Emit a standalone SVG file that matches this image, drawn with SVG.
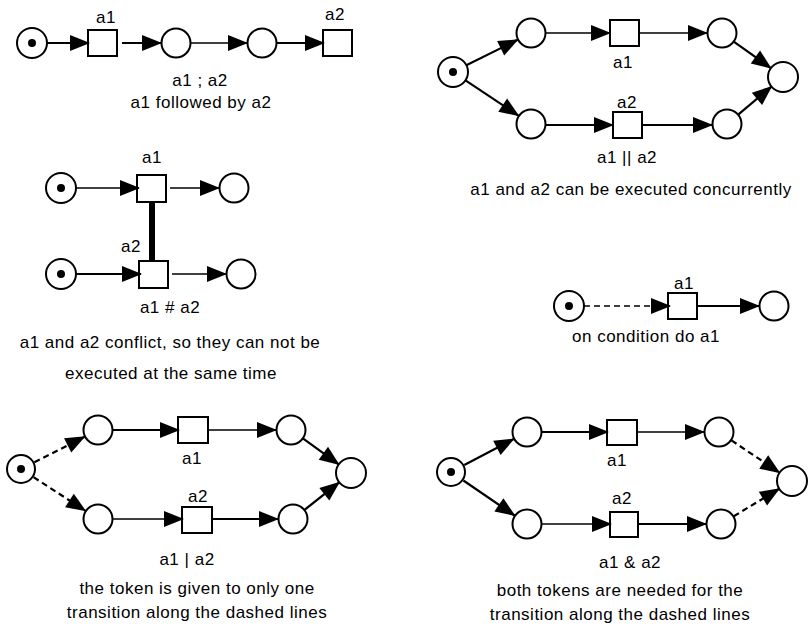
<svg xmlns="http://www.w3.org/2000/svg" width="811" height="632" viewBox="0 0 811 632">
  <style>
    .place { fill: #fff; stroke: #000; stroke-width: 2; }
    .trans { fill: #fff; stroke: #000; stroke-width: 2; }
    .token { fill: #000; }
    .arc { stroke: #000; stroke-width: 2.2; fill: none; marker-end: url(#head); }
    .thin { stroke-width: 1.6; }
    .dash { stroke-dasharray: 6 4; }
    .bar { stroke: #000; stroke-width: 6; }
    text { font-family: "Liberation Sans", Arial, sans-serif; font-size: 17px; letter-spacing: 0.5px; fill: #000; text-anchor: middle; }
  </style>
  <defs>
    <marker id="head" markerUnits="userSpaceOnUse" viewBox="0 0 20 16" markerWidth="20" markerHeight="16" refX="19" refY="8" orient="auto" overflow="visible">
      <path d="M0,0 L20,8 L0,16 z" fill="#000"/>
    </marker>
  </defs>

  <!-- Sequence: a1 ; a2 -->
  <g id="seq">
    <g id="seq-p0"><circle class="place" cx="32" cy="43" r="15"/><circle class="token" cx="32" cy="43" r="4"/></g>
    <g id="seq-a1"><rect class="trans" x="88" y="30" width="29" height="26"/><text x="106" y="23">a1</text></g>
    <g id="seq-p1"><circle class="place" cx="176" cy="43" r="14.5"/></g>
    <g id="seq-p2"><circle class="place" cx="262" cy="43" r="14.5"/></g>
    <g id="seq-a2"><rect class="trans" x="323" y="30" width="29" height="26"/><text x="335" y="20">a2</text></g>
    <g id="seq-arcs">
      <line class="arc" x1="47" y1="43" x2="89" y2="43"/>
      <line class="arc" x1="122" y1="43" x2="161" y2="43"/>
      <line class="arc thin" x1="191" y1="43" x2="247" y2="43"/>
      <line class="arc" x1="277" y1="43" x2="324" y2="43"/>
    </g>
    <text x="200" y="86">a1 ; a2</text>
    <text x="201" y="108">a1 followed by a2</text>
  </g>

  <!-- Concurrency: a1 || a2 -->
  <g id="par">
    <g id="par-p0"><circle class="place" cx="453" cy="72" r="15"/><circle class="token" cx="453" cy="72" r="4"/></g>
    <g id="par-p1"><circle class="place" cx="531" cy="33" r="14.5"/></g>
    <g id="par-a1"><rect class="trans" x="610" y="20" width="29" height="26"/><text x="623" y="68">a1</text></g>
    <g id="par-p2"><circle class="place" cx="722" cy="33" r="14.5"/></g>
    <g id="par-p3"><circle class="place" cx="531" cy="124" r="14.5"/></g>
    <g id="par-a2"><rect class="trans" x="613" y="112" width="29" height="26"/><text x="627" y="108">a2</text></g>
    <g id="par-p4"><circle class="place" cx="727" cy="124" r="14.5"/></g>
    <g id="par-p5"><circle class="place" cx="783" cy="77" r="15"/></g>
    <g id="par-arcs">
      <line class="arc" x1="466.3" y1="65.2" x2="517.7" y2="39.8"/>
      <line class="arc" x1="465.5" y1="80.3" x2="518.5" y2="115.7"/>
      <line class="arc thin" x1="546" y1="33" x2="610" y2="33"/>
      <line class="arc thin" x1="639" y1="33" x2="707" y2="33"/>
      <line class="arc" x1="734.1" y1="41.9" x2="770.9" y2="68.1"/>
      <line class="arc" x1="546" y1="125" x2="613" y2="125"/>
      <line class="arc" x1="642" y1="125" x2="712" y2="125"/>
      <line class="arc" x1="738.5" y1="114.4" x2="771.5" y2="86.6"/>
    </g>
    <text x="627" y="163">a1 || a2</text>
    <text x="631" y="195">a1 and a2 can be executed concurrently</text>
  </g>

  <!-- Conflict: a1 # a2 -->
  <g id="conf">
    <g id="conf-p0"><circle class="place" cx="61" cy="188" r="15"/><circle class="token" cx="61" cy="188" r="4"/></g>
    <g id="conf-a1"><rect class="trans" x="137" y="175" width="29" height="27"/><text x="152" y="163">a1</text></g>
    <g id="conf-p1"><circle class="place" cx="234" cy="188" r="14.5"/></g>
    <g id="conf-p2"><circle class="place" cx="61" cy="274" r="15"/><circle class="token" cx="61" cy="274" r="4"/></g>
    <g id="conf-a2"><rect class="trans" x="139" y="261" width="29" height="27"/><text x="131" y="252">a2</text></g>
    <g id="conf-p3"><circle class="place" cx="241" cy="274" r="14.5"/></g>
    <g id="conf-arcs">
      <line class="arc thin" x1="76" y1="188" x2="139" y2="188"/>
      <line class="arc thin" x1="170" y1="188" x2="219" y2="188"/>
      <line class="bar" x1="152" y1="202" x2="152" y2="261"/>
      <line class="arc" x1="76" y1="274" x2="141" y2="274"/>
      <line class="arc thin" x1="172" y1="274" x2="226" y2="274"/>
    </g>
    <text x="170" y="313">a1 #  a2</text>
    <text x="170" y="348">a1 and a2 conflict, so they can not be</text>
    <text x="171" y="379">executed at the same time</text>
  </g>

  <!-- Condition -->
  <g id="cond">
    <g id="cond-p0"><circle class="place" cx="569" cy="306" r="15"/><circle class="token" cx="569" cy="306" r="4"/></g>
    <g id="cond-a1"><rect class="trans" x="668" y="293" width="29" height="26"/><text x="684" y="289">a1</text></g>
    <g id="cond-p1"><circle class="place" cx="774" cy="306" r="14.5"/></g>
    <g id="cond-arcs">
      <line class="arc thin dash" x1="584" y1="306" x2="670" y2="306"/>
      <line class="arc" x1="697" y1="306" x2="759" y2="306"/>
    </g>
    <text x="646" y="342">on condition do a1</text>
  </g>

  <!-- Exclusive choice: a1 | a2 -->
  <g id="xor">
    <g id="xor-p0"><circle class="place" cx="21" cy="469" r="14"/><circle class="token" cx="21" cy="469" r="4"/></g>
    <g id="xor-p1"><circle class="place" cx="98" cy="430" r="14.5"/></g>
    <g id="xor-a1"><rect class="trans" x="178" y="417" width="30" height="26"/><text x="192" y="464">a1</text></g>
    <g id="xor-p2"><circle class="place" cx="291" cy="430" r="14.5"/></g>
    <g id="xor-p3"><circle class="place" cx="98" cy="519" r="14.5"/></g>
    <g id="xor-a2"><rect class="trans" x="182" y="507" width="30" height="26"/><text x="198" y="502">a2</text></g>
    <g id="xor-p4"><circle class="place" cx="293" cy="519" r="14.5"/></g>
    <g id="xor-p5"><circle class="place" cx="351" cy="473" r="15"/></g>
    <g id="xor-arcs">
      <line class="arc dash" x1="34.4" y1="462.2" x2="84.6" y2="436.8"/>
      <line class="arc dash" x1="33.6" y1="477.2" x2="85.4" y2="510.8"/>
      <line class="arc" x1="113" y1="430" x2="179" y2="430"/>
      <line class="arc thin" x1="208" y1="430" x2="276" y2="430"/>
      <line class="arc" x1="303.2" y1="438.7" x2="338.8" y2="464.3"/>
      <line class="arc thin" x1="113" y1="519" x2="183" y2="519"/>
      <line class="arc" x1="212" y1="519" x2="278" y2="519"/>
      <line class="arc" x1="304.8" y1="509.7" x2="339.2" y2="482.3"/>
    </g>
    <text x="187" y="565">a1 | a2</text>
    <text x="197" y="594">the token is given to only one</text>
    <text x="197" y="618">transition along the dashed lines</text>
  </g>

  <!-- Synchronisation: a1 &amp; a2 -->
  <g id="and">
    <g id="and-p0"><circle class="place" cx="451" cy="472" r="14"/><circle class="token" cx="451" cy="472" r="4"/></g>
    <g id="and-p1"><circle class="place" cx="527" cy="432" r="14.5"/></g>
    <g id="and-a1"><rect class="trans" x="607" y="420" width="30" height="25"/><text x="617" y="466">a1</text></g>
    <g id="and-p2"><circle class="place" cx="719" cy="432" r="14.5"/></g>
    <g id="and-p3"><circle class="place" cx="527" cy="524" r="14.5"/></g>
    <g id="and-a2"><rect class="trans" x="610" y="512" width="28" height="25"/><text x="622" y="504">a2</text></g>
    <g id="and-p4"><circle class="place" cx="721" cy="524" r="14.5"/></g>
    <g id="and-p5"><circle class="place" cx="792" cy="481" r="15"/></g>
    <g id="and-arcs">
      <line class="arc" x1="464.3" y1="465" x2="513.7" y2="439"/>
      <line class="arc" x1="463.4" y1="480.5" x2="514.6" y2="515.5"/>
      <line class="arc" x1="542" y1="432" x2="608" y2="432"/>
      <line class="arc thin" x1="637" y1="432" x2="704" y2="432"/>
      <line class="arc dash" x1="731.5" y1="440.4" x2="779.5" y2="472.6"/>
      <line class="arc thin" x1="542" y1="524" x2="611" y2="524"/>
      <line class="arc" x1="638" y1="524" x2="706" y2="524"/>
      <line class="arc dash" x1="733.8" y1="516.2" x2="779.2" y2="488.8"/>
    </g>
    <text x="630" y="568">a1 &amp;  a2</text>
    <text x="620" y="596">both tokens are needed for the</text>
    <text x="620" y="620">transition along the dashed lines</text>
  </g>
</svg>
